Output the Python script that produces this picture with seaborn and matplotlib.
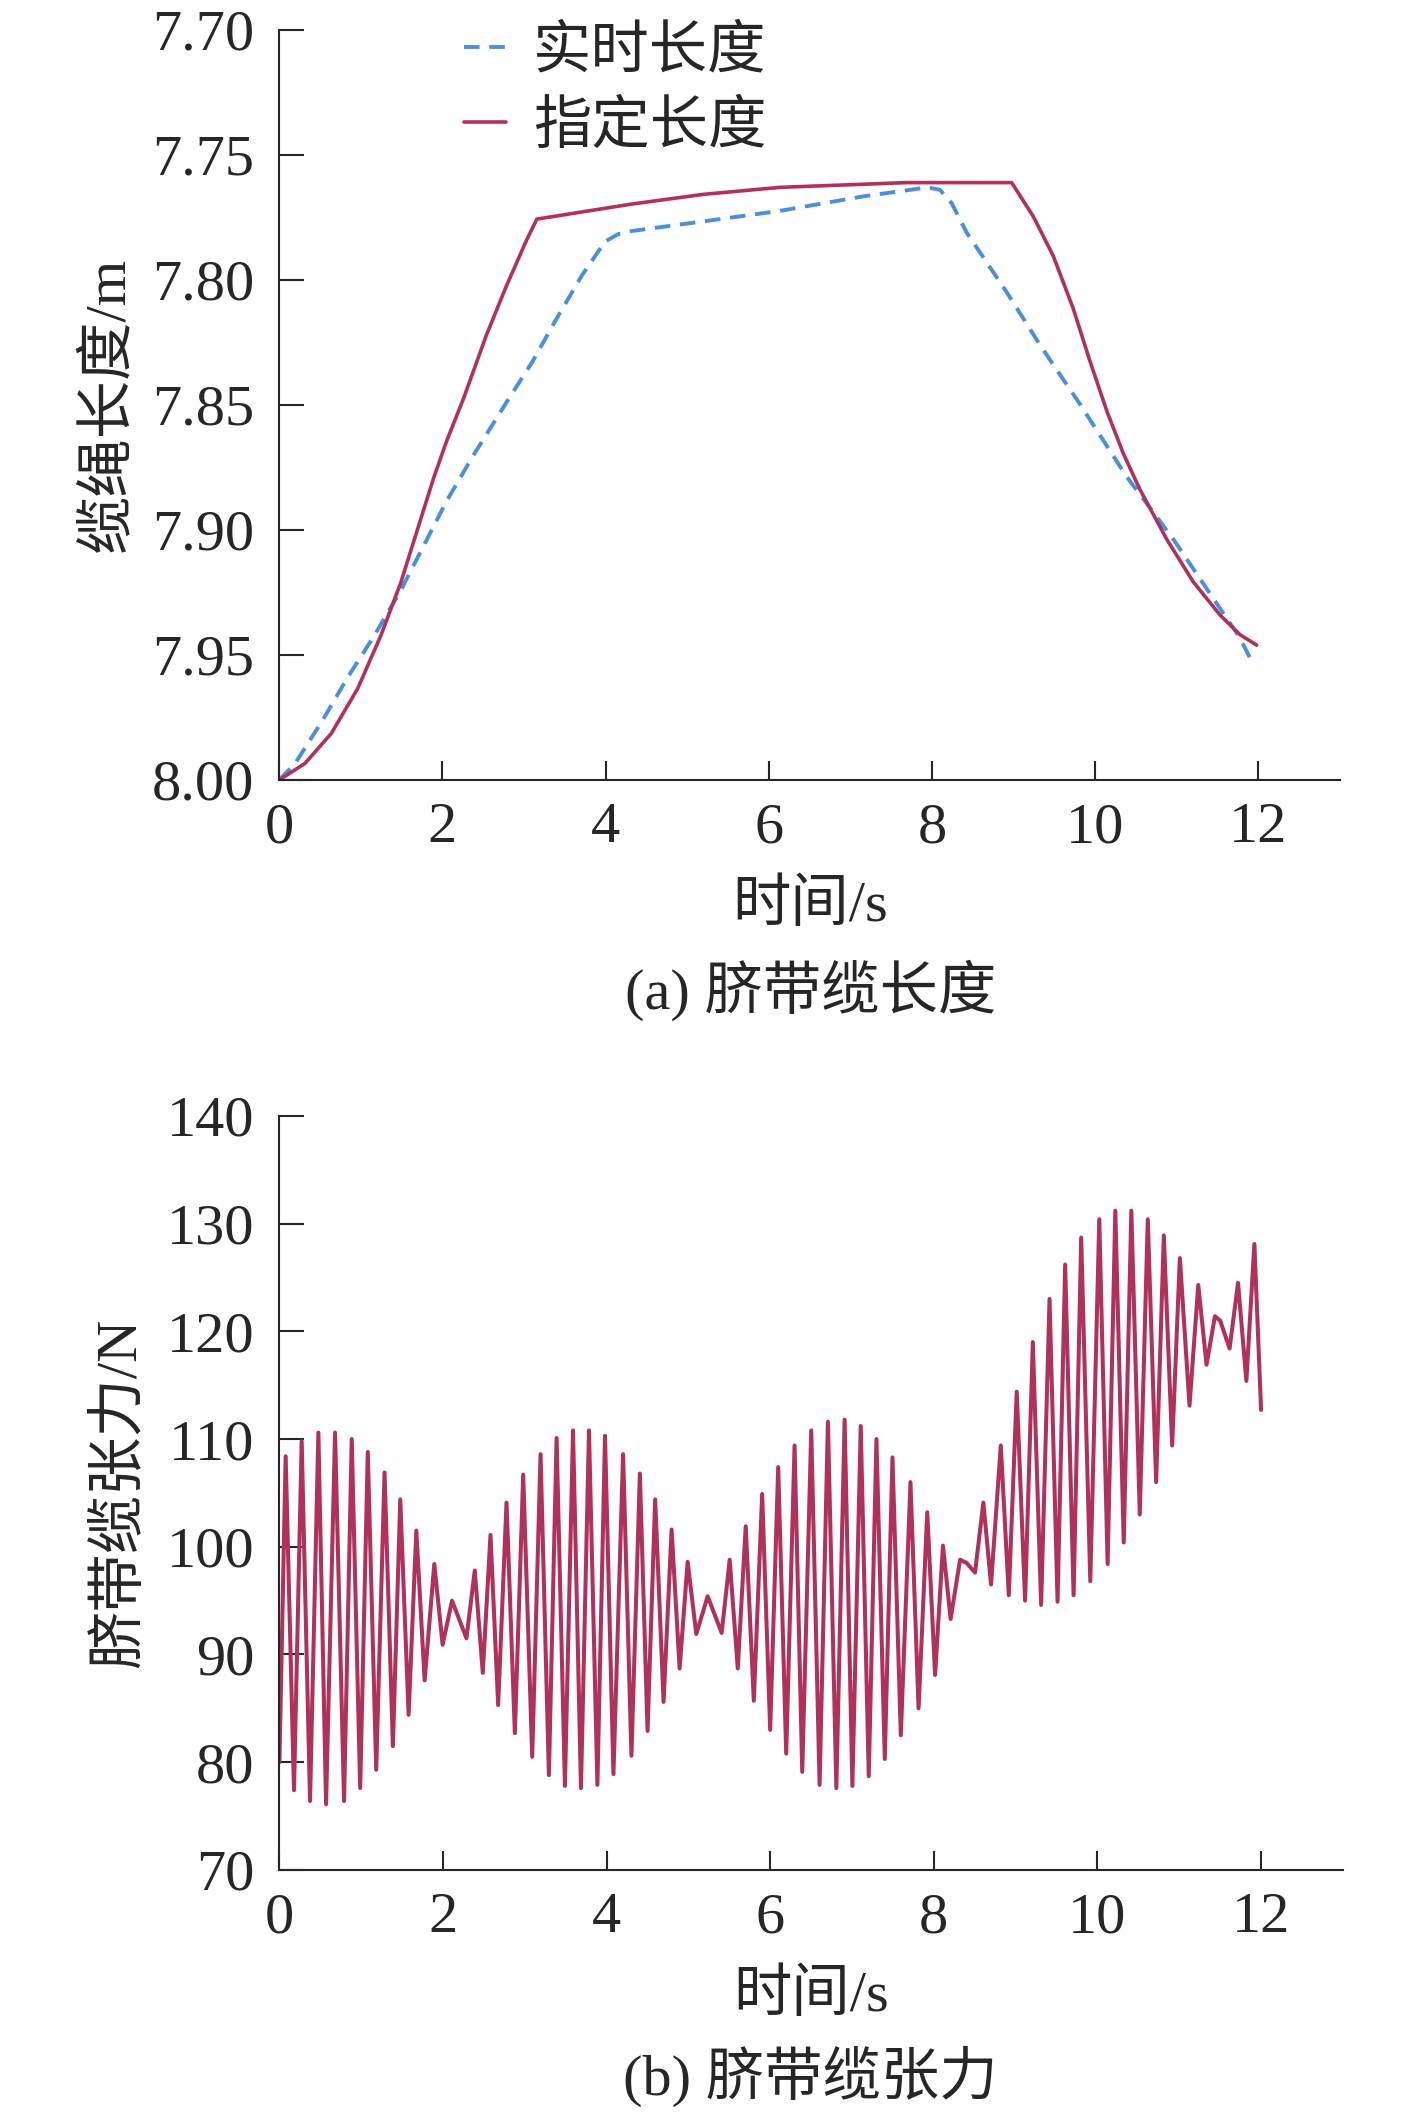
import numpy as np
import pandas as pd
import seaborn as sns
import matplotlib
matplotlib.use('Agg')
import matplotlib.pyplot as plt
from matplotlib.ticker import FormatStrFormatter

# ---- dados ----
# (a) comprimento do cabo
t_real = [0.0, 0.194, 0.517, 0.840, 1.164, 1.487, 1.770, 2.053, 2.376, 2.780, 3.103, 3.386,
          3.709, 3.992, 4.154, 4.315, 5.196, 6.136, 7.157, 7.950, 8.097, 8.240, 8.424, 8.914,
          9.322, 9.812, 10.385, 10.956, 11.365, 11.773, 11.936]
len_real = [8.000, 7.9934, 7.9769, 7.9589, 7.9423, 7.9243, 7.9063, 7.8883, 7.8703, 7.8492, 7.8327, 7.8162,
            7.7982, 7.7847, 7.7817, 7.7805, 7.7766, 7.7724, 7.7666, 7.7630, 7.7640, 7.7693, 7.7811, 7.8049,
            7.8260, 7.8497, 7.8787, 7.9037, 7.9235, 7.9432, 7.9538]

t_ref = [0.0, 0.315, 0.638, 0.962, 1.244, 1.487, 1.689, 1.891, 2.053, 2.255, 2.537, 2.780,
         3.022, 3.156, 4.315, 5.196, 6.136, 7.686, 8.975, 9.240, 9.485, 9.730, 9.935, 10.140,
         10.343, 10.548, 10.875, 11.201, 11.528, 11.773, 11.978]
len_ref = [8.000, 7.9934, 7.9814, 7.9634, 7.9423, 7.9213, 7.9003, 7.8793, 7.8643, 7.8477, 7.8222, 7.8027,
           7.7847, 7.7757, 7.7697, 7.7658, 7.7630, 7.7611, 7.7611, 7.7746, 7.7904, 7.8115, 7.8325, 7.8523,
           7.8694, 7.8839, 7.9037, 7.9208, 7.9340, 7.9419, 7.9461]

# (b) tensão do cabo (picos e vales)
t_ten = [0.0, 0.076, 0.178, 0.272, 0.374, 0.476, 0.570, 0.680, 0.790, 0.884, 0.987, 1.080,
         1.183, 1.285, 1.387, 1.477, 1.579, 1.673, 1.775, 1.893, 1.995, 2.110, 2.286, 2.388,
         2.486, 2.580, 2.674, 2.776, 2.878, 2.980, 3.090, 3.192, 3.294, 3.388, 3.490, 3.589,
         3.686, 3.784, 3.887, 3.980, 4.083, 4.201, 4.303, 4.406, 4.500, 4.593, 4.696, 4.794,
         4.892, 4.990, 5.096, 5.235, 5.406, 5.504, 5.603, 5.700, 5.799, 5.901, 5.999, 6.097,
         6.195, 6.297, 6.391, 6.501, 6.603, 6.705, 6.808, 6.909, 7.004, 7.106, 7.204, 7.298,
         7.400, 7.494, 7.596, 7.714, 7.813, 7.919, 8.015, 8.111, 8.205, 8.320, 8.400, 8.503,
         8.605, 8.699, 8.818, 8.916, 9.013, 9.115, 9.210, 9.311, 9.414, 9.512, 9.605, 9.708,
         9.801, 9.912, 10.022, 10.124, 10.218, 10.321, 10.414, 10.517, 10.615, 10.717, 10.811,
         10.913, 11.007, 11.125, 11.232, 11.333, 11.436, 11.500, 11.615, 11.718, 11.820, 11.918, 12.0]
tension = [80.0, 108.4, 77.4, 109.8, 76.4, 110.6, 76.1, 110.6, 76.4, 110.0, 77.6, 108.8,
           79.3, 106.9, 81.5, 104.4, 84.4, 101.5, 87.6, 98.4, 90.9, 95.0, 91.5, 97.8,
           88.3, 101.1, 85.3, 104.1, 82.7, 106.7, 80.5, 108.6, 78.8, 110.1, 77.8, 110.8,
           77.6, 110.8, 77.9, 110.3, 78.9, 108.6, 80.6, 106.8, 82.9, 104.4, 85.6, 101.6,
           88.7, 98.6, 91.9, 95.4, 92.0, 98.8, 88.7, 101.9, 85.7, 104.9, 83.0, 107.4,
           80.8, 109.4, 79.1, 110.8, 77.9, 111.6, 77.6, 111.8, 77.8, 111.2, 78.7, 110.0,
           80.3, 108.3, 82.5, 106.0, 85.0, 103.2, 88.1, 100.1, 93.3, 98.8, 98.5, 97.6,
           104.1, 96.5, 109.4, 95.5, 114.4, 95.0, 119.0, 94.6, 123.0, 94.9, 126.2, 95.5,
           128.7, 96.8, 130.4, 98.4, 131.2, 100.4, 131.2, 103.0, 130.4, 106.0, 128.9,
           109.4, 126.8, 113.1, 124.3, 116.9, 121.4, 121.0, 118.4, 124.5, 115.4, 128.1, 112.7]

cor_real = '#4A8FDF'
cor_ref = '#B0305E'

sns.set_style('ticks')
fam = ['Liberation Serif', 'Noto Sans CJK SC']
plt.rcParams['font.family'] = fam
plt.rcParams['font.size'] = 42
plt.rcParams['axes.linewidth'] = 1.5

fig = plt.figure(figsize=(14.17, 21.17), dpi=100)
ax1 = fig.add_axes([0.1971, 0.6316, 0.7486, 0.3543])
ax2 = fig.add_axes([0.1972, 0.1167, 0.7505, 0.3562])

df_real = pd.DataFrame({'t': t_real, 'L': len_real})
df_ref = pd.DataFrame({'t': t_ref, 'L': len_ref})
sns.lineplot(data=df_real, x='t', y='L', ax=ax1, color=cor_real, lw=2.8,
             linestyle=(0, (4, 2.5)), label='实时长度', sort=False)
sns.lineplot(data=df_ref, x='t', y='L', ax=ax1, color=cor_ref, lw=2.6,
             label='指定长度', sort=False)

df_ten = pd.DataFrame({'t': t_ten, 'T': tension})
sns.lineplot(data=df_ten, x='t', y='T', ax=ax2, color=cor_ref, lw=2.9, sort=False)

ax1.set_xlim(0, 13)
ax1.set_ylim(8.00, 7.70)
ax1.set_yticks([7.70, 7.75, 7.80, 7.85, 7.90, 7.95, 8.00])
ax1.yaxis.set_major_formatter(FormatStrFormatter('%.2f'))
ax2.set_xlim(0, 13)
ax2.set_ylim(70, 140)
ax2.set_yticks(range(70, 141, 10))

for ax in (ax1, ax2):
    ax.set_xticks(range(0, 13, 2))
    sns.despine(ax=ax)
    ax.tick_params(axis='y', direction='in', length=18, width=1.5, pad=18, labelsize=42)
    ax.tick_params(axis='x', direction='in', length=14, width=1.5, pad=16, labelsize=42)
    ax.set_xlabel('时间/s', fontsize=42, labelpad=18)

ax1.set_ylabel('缆绳长度/m', fontsize=42, labelpad=12)
ax2.set_ylabel('脐带缆张力/N', fontsize=42, labelpad=14)

ax1.legend(loc='upper left', bbox_to_anchor=(0.125, 1.075), frameon=False,
           handlelength=0.72, handletextpad=0.45, labelspacing=0.35, fontsize=42)

fig.text(0.572, 0.532, '(a) 脐带缆长度', ha='center', va='center', fontsize=42)
fig.text(0.572, 0.019, '(b) 脐带缆张力', ha='center', va='center', fontsize=42)

plt.savefig('out.png', dpi=100)
